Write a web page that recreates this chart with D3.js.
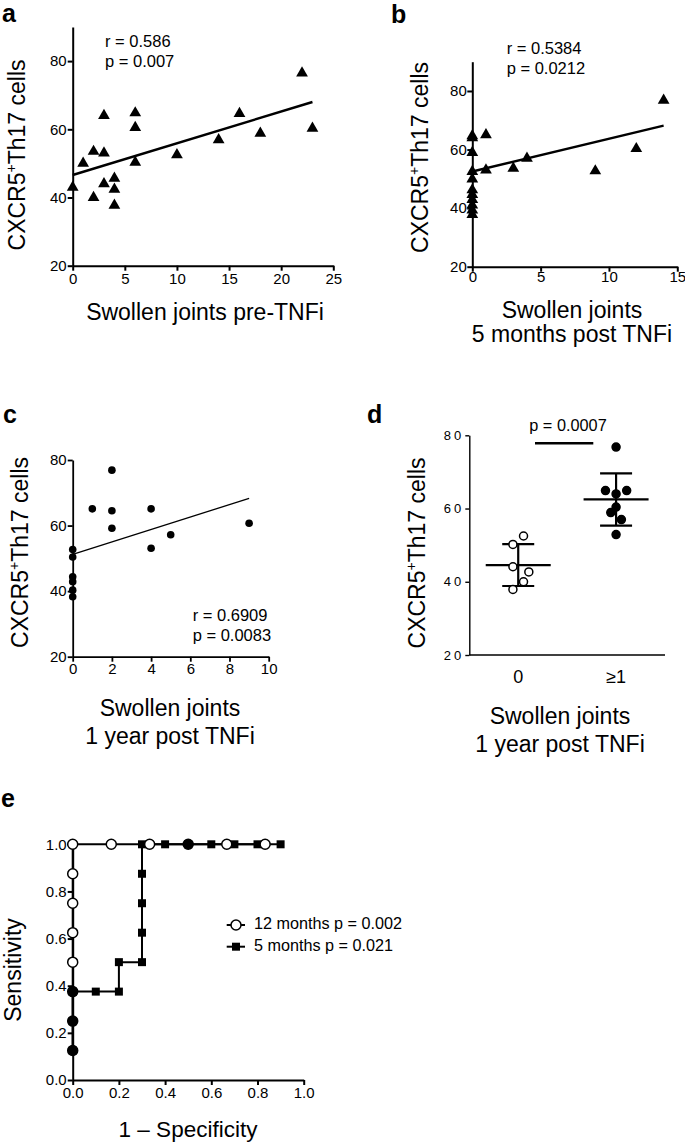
<!DOCTYPE html>
<html>
<head>
<meta charset="utf-8">
<script src="https://cdn.jsdelivr.net/npm/d3@7"></script>
<style>
  body { margin: 0; background: #fff; }
  svg { display: block; font-family: "Liberation Sans", Arial, Helvetica, sans-serif; }
</style>
</head>
<body>
<svg width="685" height="1142"></svg>
<script>
// ---- data ----
// a: swollen joints pre-TNFi vs CXCR5+Th17
const aJoints = [0, 1, 2, 2, 3, 3, 3, 4, 4, 4, 6, 6, 6, 10, 14, 16, 18, 22, 23];
const aCells = [43, 50, 53.5, 40, 64, 53, 44, 45.6, 42.4, 37.7, 64.8, 60.5, 50.3, 52.5, 56.9, 64.6, 58.8, 76.5, 60.3];
const aFit = [[0, 46.6], [23, 68.0]];
const aStats = ["r = 0.586", "p = 0.007"];

// b: 5 months post TNFi
const bJoints = [0, 0, 0, 0, 0, 0, 0, 0, 0, 0, 0, 1, 1, 3, 4, 9, 12, 14];
const bCells = [64.7, 64.0, 59.0, 52.5, 49.9, 46.2, 44.6, 42.9, 41.0, 39.3, 37.8, 65.0, 53.0, 53.6, 57.0, 52.7, 60.3, 76.8];
const bFit = [[0, 52.5], [14, 68.2]];
const bStats = ["r = 0.5384", "p = 0.0212"];

// c: 1 year post TNFi
const cJoints = [0, 0, 0, 0, 0, 0, 1, 2, 2, 2, 4, 4, 5, 9];
const cCells = [52.7, 50.4, 44.4, 42.9, 40.3, 38.3, 65.1, 76.9, 64.5, 59.2, 65.1, 53.1, 57.2, 60.7];
const cFit = [[0, 51.2], [9, 68.3]];
const cStats = ["r = 0.6909", "p = 0.0083"];

// d: groups by swollen joints at 1 year
const dGroups = ["0", "\u22651"];
const dZero = [52.5, 50.2, 44.1, 42.7, 40.0, 37.9];
const dZeroSlot = [1, -1, -1, 2, 1, -1];
const dOne = [76.8, 64.9, 64.9, 64.0, 60.4, 58.9, 57.0, 52.9];
const dOneSlot = [0, -2, 2, 0, 0, -1, 1, 0];
const dPText = "p = 0.0007";

// e: ROC curves
const roc12Fpr = [0, 0, 0, 0, 0, 0, 0, 0, 0.167, 0.333, 0.5, 0.667, 0.833];
const roc12Tpr = [0.125, 0.25, 0.375, 0.5, 0.625, 0.75, 0.875, 1, 1, 1, 1, 1, 1];
const roc5Fpr = [0, 0, 0, 0.1, 0.2, 0.2, 0.3, 0.3, 0.3, 0.3, 0.3, 0.4, 0.5, 0.6, 0.7, 0.8, 0.9];
const roc5Tpr = [0.125, 0.25, 0.375, 0.375, 0.375, 0.5, 0.5, 0.625, 0.75, 0.875, 1, 1, 1, 1, 1, 1, 1];
const rocLegend = ["12 months p = 0.002", "5 months p = 0.021"];

const cellTicks = [20, 40, 60, 80];
const rocTicks = [0, 0.2, 0.4, 0.6, 0.8, 1.0];

const svg = d3.select("svg");
svg.append("rect").attr("width", 685).attr("height", 1142).attr("fill", "#fff");

function styleAxis(g, sw, fs) {
  g.attr("font-family", null).attr("font-size", null);
  g.select(".domain").attr("stroke", "#000").attr("stroke-width", sw);
  g.selectAll(".tick line").attr("stroke", "#000").attr("stroke-width", sw);
  g.selectAll(".tick text").attr("fill", "#000").attr("font-size", fs);
}

function panelLabel(txt, x, y) {
  svg.append("text").attr("x", x).attr("y", y)
    .attr("font-size", 25).attr("font-weight", "bold").text(txt);
}

function cellTitle(x, y) {
  const t = svg.append("text")
    .attr("transform", `translate(${x},${y}) rotate(-90)`)
    .attr("text-anchor", "middle").attr("font-size", 23);
  t.append("tspan").text("CXCR5");
  t.append("tspan").attr("dy", -9).attr("font-size", 14).text("+");
  t.append("tspan").attr("dy", 9).text("Th17 cells");
}

function xTitle(lines, x, y, gap) {
  lines.forEach((l, i) => {
    svg.append("text").attr("x", x).attr("y", y + i * gap)
      .attr("text-anchor", "middle").attr("font-size", 23).text(l);
  });
}

function scatter(o) {
  const x = d3.scaleLinear().domain(o.xDomain).range(o.xRange);
  const y = d3.scaleLinear().domain(o.yDomain).range(o.yRange);
  const g = svg.append("g");

  g.append("g")
    .attr("transform", `translate(0,${o.yRange[0]})`)
    .call(d3.axisBottom(x).tickValues(o.xTicks).tickSize(5).tickPadding(o.xPad).tickSizeOuter(0))
    .call(styleAxis, o.axisW, 15);
  g.append("g")
    .attr("transform", `translate(${o.xRange[0]},0)`)
    .call(d3.axisLeft(y).tickValues(cellTicks).tickSize(5).tickPadding(o.yPad).tickSizeOuter(0))
    .call(styleAxis, o.axisW, 15);

  g.append("path")
    .attr("d", d3.line().x(d => x(d[0])).y(d => y(d[1]))(o.fit))
    .attr("fill", "none").attr("stroke", "#000").attr("stroke-width", o.fitW);

  const pts = o.xs.map((v, i) => [v, o.ys[i]]);
  if (o.shape === "triangle") {
    g.selectAll(".pt").data(pts).join("path")
      .attr("d", d3.symbol(d3.symbolTriangle, 60))
      .attr("transform", d => `translate(${x(d[0])},${y(d[1])})`)
      .attr("fill", "#000");
  } else {
    g.selectAll(".pt").data(pts).join("circle")
      .attr("cx", d => x(d[0])).attr("cy", d => y(d[1])).attr("r", 3.8)
      .attr("fill", "#000");
  }

  o.stats.forEach((s, i) => {
    g.append("text").attr("x", o.statX).attr("y", o.statY + i * 20)
      .attr("font-size", 16.5).text(s);
  });
}

// ---- panel a ----
panelLabel("a", 2, 22);
scatter({
  xs: aJoints, ys: aCells, fit: aFit, stats: aStats, shape: "triangle",
  xDomain: [0, 25], xRange: [72.7, 333.3], yDomain: [20, 90], yRange: [265.7, 27],
  xTicks: d3.range(0, 26, 5), xPad: 3, yPad: 1, axisW: 2, fitW: 2.4,
  statX: 105, statY: 46.5
});
cellTitle(25, 155);
xTitle(["Swollen joints pre-TNFi"], 205, 320, 0);

// ---- panel b ----
panelLabel("b", 391, 22.5);
scatter({
  xs: bJoints, ys: bCells, fit: bFit, stats: bStats, shape: "triangle",
  xDomain: [0, 15], xRange: [472.3, 677.3], yDomain: [20, 90], yRange: [266.7, 61.7],
  xTicks: [0, 5, 10, 15], xPad: 0, yPad: 0.5, axisW: 2, fitW: 2.4,
  statX: 506.7, statY: 54
});
cellTitle(428, 157.5);
xTitle(["Swollen joints", "5 months post TNFi"], 572, 318, 23.5);

// ---- panel c ----
panelLabel("c", 3, 423);
scatter({
  xs: cJoints, ys: cCells, fit: cFit, stats: cStats, shape: "circle",
  xDomain: [0, 10], xRange: [72.7, 268.7], yDomain: [20, 80], yRange: [656.7, 460],
  xTicks: d3.range(0, 11, 2), xPad: 2, yPad: 1, axisW: 1.8, fitW: 1.3,
  statX: 192.7, statY: 620.7
});
cellTitle(28, 552.5);
xTitle(["Swollen joints", "1 year post TNFi"], 170, 716, 28);

// ---- panel d ----
panelLabel("d", 367, 423);
{
  const x = d3.scalePoint().domain(dGroups).range([469.3, 665]).padding(0.5);
  const y = d3.scaleLinear().domain([20, 80]).range([655, 435.3]);
  const slotW = 5.3;

  svg.append("line").attr("x1", 469.3).attr("x2", 665).attr("y1", 655).attr("y2", 655)
    .attr("stroke", "#000").attr("stroke-width", 1.4);
  svg.append("g")
    .attr("transform", "translate(469.3,0)")
    .call(d3.axisLeft(y).tickValues(cellTicks).tickSize(4).tickPadding(1).tickSizeOuter(0))
    .call(styleAxis, 1.4, 13)
    .selectAll(".tick text").attr("letter-spacing", 3);
  dGroups.forEach(gname => {
    svg.append("text").attr("x", x(gname)).attr("y", 682.5)
      .attr("text-anchor", "middle").attr("font-size", 18).text(gname);
  });

  const groups = [
    { key: dGroups[0], vals: dZero, slot: dZeroSlot, fill: "#fff" },
    { key: dGroups[1], vals: dOne, slot: dOneSlot, fill: "#000" }
  ];
  groups.forEach(gr => {
    const cx = x(gr.key);
    const m = d3.mean(gr.vals), sd = d3.deviation(gr.vals);
    const bar = svg.append("g").attr("stroke", "#000").attr("stroke-width", 2.2);
    bar.append("line").attr("x1", cx).attr("x2", cx).attr("y1", y(m - sd)).attr("y2", y(m + sd));
    bar.append("line").attr("x1", cx - 16).attr("x2", cx + 16).attr("y1", y(m + sd)).attr("y2", y(m + sd));
    bar.append("line").attr("x1", cx - 16).attr("x2", cx + 16).attr("y1", y(m - sd)).attr("y2", y(m - sd));
    bar.append("line").attr("x1", cx - 32.5).attr("x2", cx + 32.5).attr("y1", y(m)).attr("y2", y(m));
    svg.append("g").selectAll("circle").data(gr.vals).join("circle")
      .attr("cx", (d, i) => cx + gr.slot[i] * slotW)
      .attr("cy", d => y(d)).attr("r", 4)
      .attr("fill", gr.fill).attr("stroke", "#000").attr("stroke-width", 1.5);
  });

  svg.append("line").attr("x1", 535).attr("x2", 593.3).attr("y1", 443.3).attr("y2", 443.3)
    .attr("stroke", "#000").attr("stroke-width", 2.4);
  svg.append("text").attr("x", 568).attr("y", 430.5).attr("text-anchor", "middle")
    .attr("font-size", 16.3).text(dPText);
}
cellTitle(425, 553);
xTitle(["Swollen joints", "1 year post TNFi"], 560, 724, 28);

// ---- panel e ----
panelLabel("e", 1, 807);
{
  const x = d3.scaleLinear().domain([0, 1]).range([72.7, 303.7]);
  const y = d3.scaleLinear().domain([0, 1]).range([1080, 844.3]);
  const fmt = d3.format(".1f");

  svg.append("g").attr("transform", "translate(0,1080)")
    .call(d3.axisBottom(x).tickValues(rocTicks).tickFormat(fmt).tickSize(5).tickPadding(2).tickSizeOuter(0))
    .call(styleAxis, 2, 15);
  svg.append("g").attr("transform", "translate(72.7,0)")
    .call(d3.axisLeft(y).tickValues(rocTicks).tickFormat(fmt).tickSize(5).tickPadding(1).tickSizeOuter(0))
    .call(styleAxis, 2, 15);

  const p5 = roc5Fpr.map((v, i) => [v, roc5Tpr[i]]);
  const p12 = roc12Fpr.map((v, i) => [v, roc12Tpr[i]]);
  const line = d3.line().x(d => x(d[0])).y(d => y(d[1]));
  [p5, p12].forEach(p => {
    svg.append("path").attr("d", line(p)).attr("fill", "none")
      .attr("stroke", "#000").attr("stroke-width", 2);
  });

  svg.append("g").selectAll("path").data(p5).join("path")
    .attr("d", d3.symbol(d3.symbolSquare, 64))
    .attr("transform", d => `translate(${x(d[0])},${y(d[1])})`)
    .attr("fill", "#000");
  // where both curves share a point the marker reads as a solid dot
  const shared = p => p5.some(q => Math.abs(q[0] - p[0]) < 1e-6 && q[1] === p[1]);
  svg.append("g").selectAll("circle").data(p12).join("circle")
    .attr("cx", d => x(d[0])).attr("cy", d => y(d[1])).attr("r", 5)
    .attr("fill", d => shared(d) ? "#000" : "#fff")
    .attr("stroke", "#000").attr("stroke-width", 1.5);

  // legend
  const lg = svg.append("g");
  [0, 1].forEach(i => {
    const ly = 925 + i * 21.7;
    lg.append("line").attr("x1", 226.7).attr("x2", 245).attr("y1", ly).attr("y2", ly)
      .attr("stroke", "#000").attr("stroke-width", 2);
    if (i === 0) {
      lg.append("circle").attr("cx", 236).attr("cy", ly).attr("r", 5)
        .attr("fill", "#fff").attr("stroke", "#000").attr("stroke-width", 1.5);
    } else {
      lg.append("path").attr("d", d3.symbol(d3.symbolSquare, 64))
        .attr("transform", `translate(236,${ly})`).attr("fill", "#000");
    }
    lg.append("text").attr("x", 254).attr("y", ly + 4).attr("font-size", 16.2).text(rocLegend[i]);
  });

  svg.append("text").attr("transform", "translate(20.5,970) rotate(-90)")
    .attr("text-anchor", "middle").attr("font-size", 23).text("Sensitivity");
  svg.append("text").attr("x", 188).attr("y", 1137)
    .attr("text-anchor", "middle").attr("font-size", 22.5).text("1 \u2013 Specificity");
}
</script>
</body>
</html>
